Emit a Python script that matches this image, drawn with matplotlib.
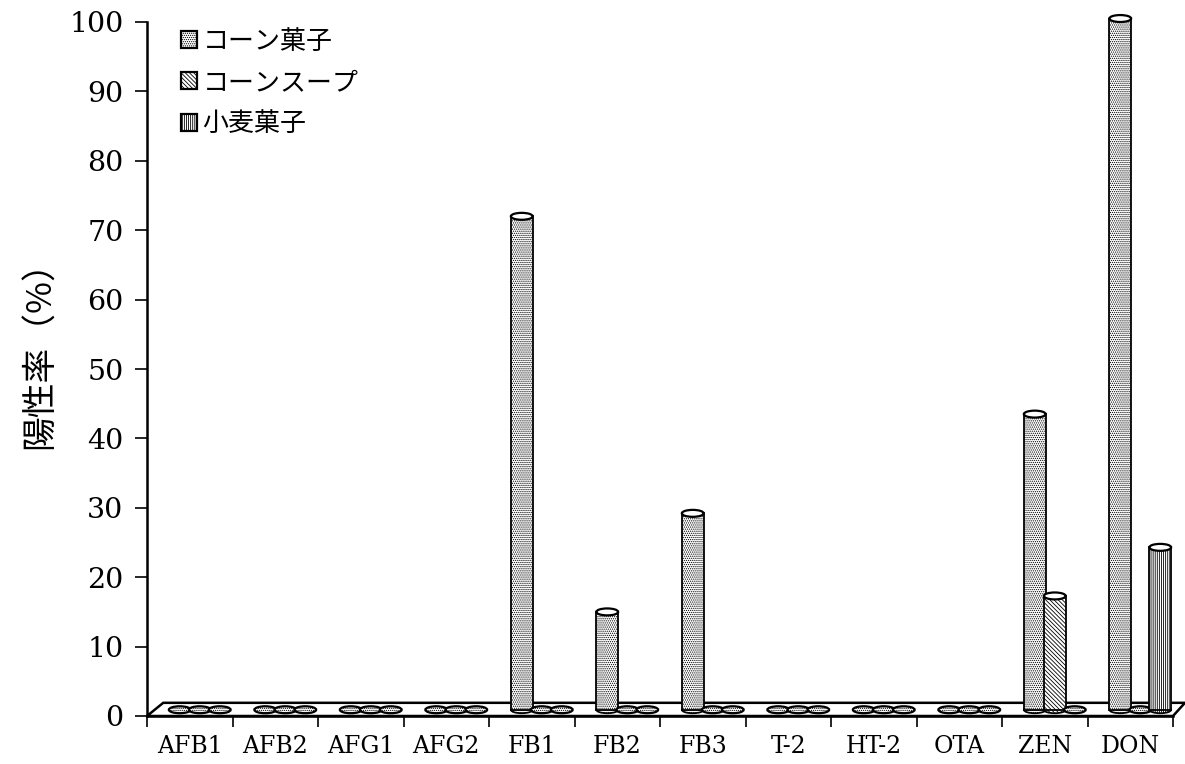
import matplotlib
matplotlib.use("Agg")
import matplotlib.pyplot as plt
from matplotlib.patches import Ellipse, Patch, Polygon

categories = ["AFB1", "AFB2", "AFG1", "AFG2", "FB1", "FB2", "FB3", "T-2", "HT-2", "OTA", "ZEN", "DON"]
series_names = ["コーン菓子", "コーンスープ", "小麦菓子"]
corn_snack = [0, 0, 0, 0, 72, 15, 29.2, 0, 0, 0, 43.5, 100.5]
corn_soup = [0, 0, 0, 0, 0, 0, 0, 0, 0, 0, 17.3, 0]
wheat_snack = [0, 0, 0, 0, 0, 0, 0, 0, 0, 0, 0, 24.3]
y_ticks = [0, 10, 20, 30, 40, 50, 60, 70, 80, 90, 100]

hatches = ["........", "\\\\\\\\\\\\\\\\", "||||||||"]
jp_font = ["Noto Sans CJK JP", "DejaVu Sans"]
serif_font = "DejaVu Serif"

plt.rcParams["hatch.linewidth"] = 0.6

fig = plt.figure(figsize=(11.85, 7.64), dpi=100)
ax = fig.add_axes([147 / 1185, 48 / 764, 1026 / 1185, 694 / 764])
ax.set_xlim(0, 12)
ax.set_ylim(0, 100)

# floor of the fake 3D plot
floor = Polygon([(0, 0), (12, 0), (12.14, 1.9), (0.19, 1.9)], closed=True,
                facecolor="white", edgecolor="black", linewidth=1.8, clip_on=False, zorder=1)
ax.add_patch(floor)

# cylinders: a hatched bar with an ellipse at each end
bar_w = 0.255
base = 0.9
cap_h = 1.0
z = 2
for j, values in enumerate([corn_snack, corn_soup, wheat_snack]):
    for i, v in enumerate(values):
        x = i + 0.617 + (j - 1) * 0.234
        if v == 0:
            ax.add_patch(Ellipse((x, base), bar_w, cap_h, facecolor="white", edgecolor="black",
                                 hatch="........", linewidth=1.6, clip_on=False, zorder=z))
            continue
        ax.add_patch(Ellipse((x, base), bar_w, cap_h, facecolor="white", edgecolor="black",
                             hatch=hatches[j], linewidth=1.3, clip_on=False, zorder=z))
        ax.bar(x, v - base, bottom=base, width=bar_w, facecolor="white", edgecolor="black",
               hatch=hatches[j], linewidth=1.3, clip_on=False, zorder=z + 0.1)
        ax.add_patch(Ellipse((x, v), bar_w, cap_h, facecolor="white", edgecolor="black",
                             linewidth=1.6, clip_on=False, zorder=z + 0.2))
    z += 1

for side in ["top", "right"]:
    ax.spines[side].set_visible(False)
for side in ["left", "bottom"]:
    ax.spines[side].set_linewidth(1.8)
    ax.spines[side].set_zorder(6)

ax.set_yticks(y_ticks)
ax.tick_params(axis="y", length=9, width=1.2, pad=8, labelsize=20.5)
ax.set_xticks(range(13))
ax.set_xticklabels([])
ax.tick_params(axis="x", which="major", length=8, width=1.2)
ax.set_xticks([i + 0.5 for i in range(12)], minor=True)
ax.set_xticklabels(categories, minor=True, fontsize=17, family=serif_font)
ax.tick_params(axis="x", which="minor", length=0, pad=14)
for lab in ax.get_yticklabels():
    lab.set_family(serif_font)

fig.text(40 / 1185, 1 - 346 / 764, "陽性率（%）", rotation=90, ha="center", va="center",
         fontsize=25, family=jp_font)

handles = [Patch(facecolor="white", edgecolor="black", hatch=h, linewidth=1.6) for h in hatches]
leg = ax.legend(handles, series_names, loc="upper left", bbox_to_anchor=(28 / 1026, 1.0),
                frameon=False, prop={"family": jp_font, "size": 18.7}, handlelength=0.62,
                handleheight=0.62, handletextpad=0.22, labelspacing=0.55, borderaxespad=0,
                borderpad=0.22)

fig.savefig("out.png", dpi=100)
